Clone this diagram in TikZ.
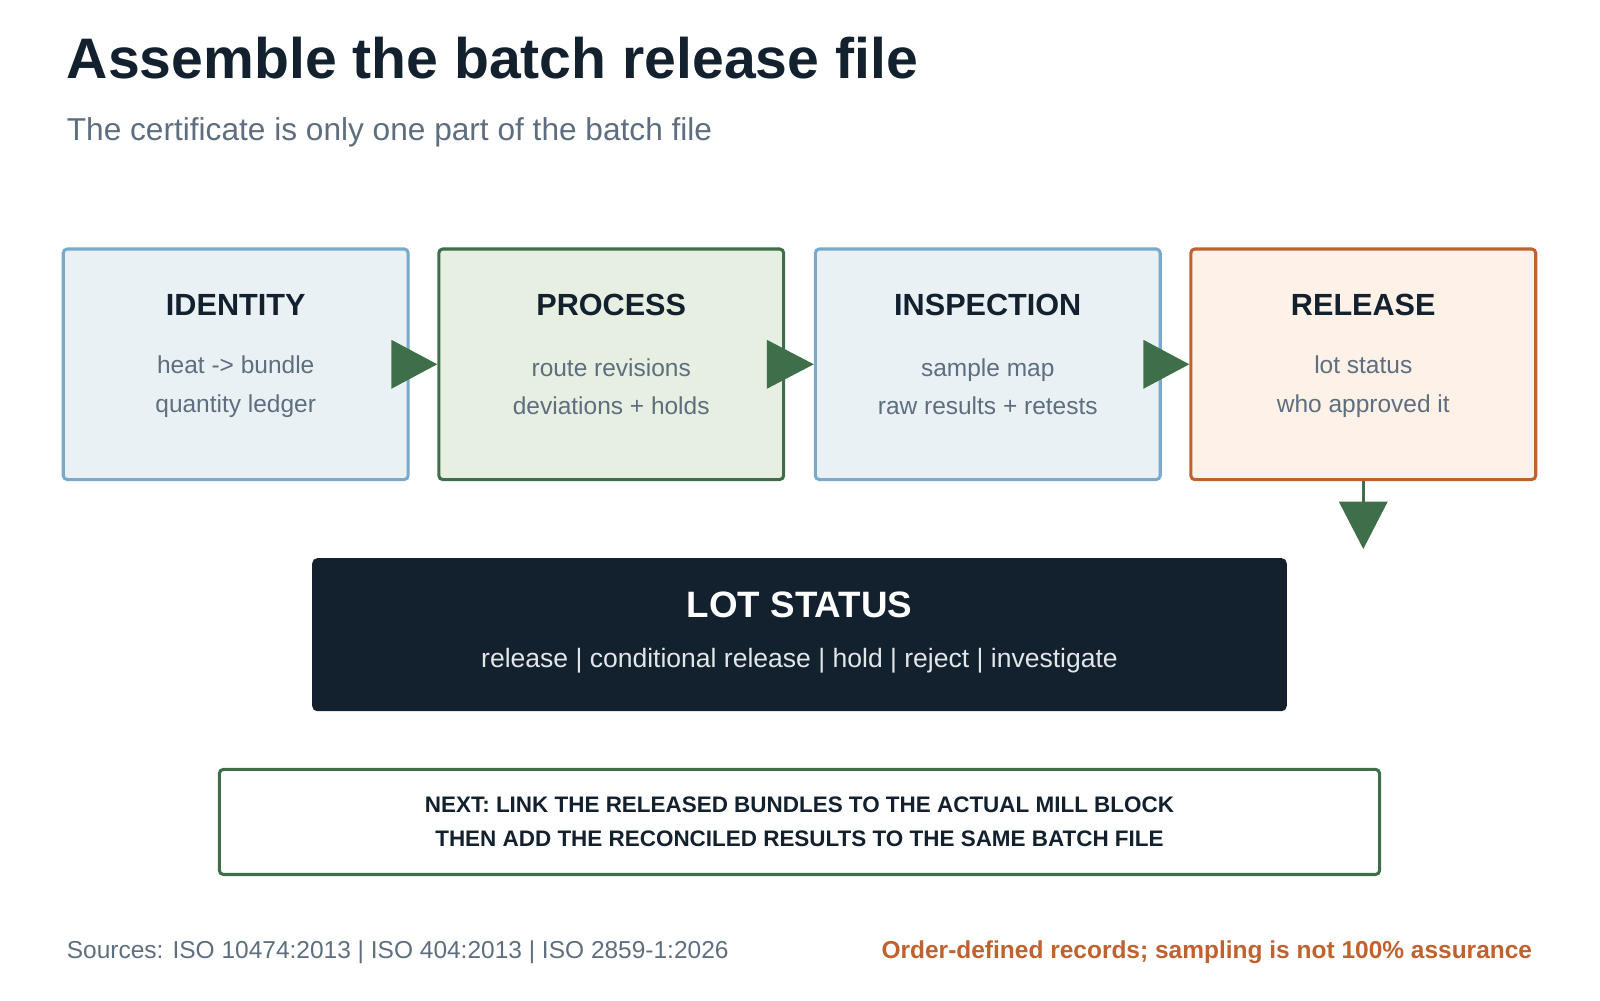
\documentclass[tikz,border=0pt]{standalone}
\usepackage{fontspec}
\setmainfont{Liberation Sans}
\definecolor{bblue}{HTML}{7BA9C9}\definecolor{fblue}{HTML}{EAF1F5}
\definecolor{bgreen}{HTML}{3E6E4A}\definecolor{fgreen}{HTML}{E6EFE1}
\definecolor{borange}{HTML}{C0622F}\definecolor{forange}{HTML}{FDF1E8}
\definecolor{dark}{HTML}{13212E}\definecolor{grey}{HTML}{5E6E7E}\definecolor{light}{HTML}{E0E6EA}
\begin{document}
\begin{tikzpicture}[x=1pt,y=1pt,
 card/.style={draw,line width=3,rounded corners=4,minimum width=338,minimum height=226,inner sep=0},
 ttl/.style={font=\fontsize{30}{36}\selectfont\bfseries,text=dark},
 sub/.style={font=\fontsize{24}{38}\selectfont,text=grey,align=center},
 tri/.style={fill=bgreen}]
\useasboundingbox (0,0) rectangle (1568,-980);
\node[anchor=base west,font=\fontsize{56}{60}\selectfont\bfseries,text=dark] (t) at (62,-77) {Assemble the batch release file};
\node[anchor=base west,font=\fontsize{31}{36}\selectfont,text=grey] (s) at (62,-138) {The certificate is only one part of the batch file};
\node[card,draw=bblue,fill=fblue] (id) at (231,-357) {};
\node[card,draw=bgreen,fill=fgreen] (pr) at (599,-357) {};
\node[card,draw=bblue,fill=fblue] (in) at (968,-357) {};
\node[card,draw=borange,fill=forange] (re) at (1336,-357) {};
\foreach \n/\t/\a/\b in {id/IDENTITY/heat -> bundle/quantity ledger, pr/PROCESS/route revisions/deviations + holds, in/INSPECTION/sample map/raw results + retests, re/RELEASE/lot status/who approved it}{
 \node[ttl] at ([yshift=58]\n.center) {\t};
 \node[sub] at ([yshift=-22]\n.center) {\a\\\b};
}
\foreach \a/\b in {id/pr,pr/in,in/re}{
 \fill[tri] ([xshift=-18,yshift=24]\a.east) -- (\b.west) -- ([xshift=-18,yshift=-24]\a.east) -- cycle;
}
\node[fill=dark,rounded corners=5,minimum width=955,minimum height=150] (lot) at (783.5,-622) {};
\node[font=\fontsize{36}{40}\selectfont\bfseries,text=white] at (783.5,-593) {LOT STATUS};
\node[font=\fontsize{26}{30}\selectfont,text=light] at (783.5,-647) {release | conditional release | hold | reject | investigate};
\coordinate (dt) at (1336,-538);
\draw[bgreen,line width=3] (re.south) -- ([yshift=-22]re.south);
\fill[tri] ([xshift=-24,yshift=-20]re.south) -- ([xshift=24,yshift=-20]re.south) -- (dt) -- cycle;
\node[draw=bgreen,line width=3,fill=white,rounded corners=4,minimum width=1137,minimum height=103,
 font=\fontsize{22}{33}\selectfont\bfseries,text=dark,align=center] (nx) at (783.5,-805.5)
 {NEXT: LINK THE RELEASED BUNDLES TO THE ACTUAL MILL BLOCK\\THEN ADD THE RECONCILED RESULTS TO THE SAME BATCH FILE};
\node[anchor=base west,font=\fontsize{24}{28}\selectfont,text=grey] (src) at (62,-939) {Sources: ISO 10474:2013 | ISO 404:2013 | ISO 2859-1:2026};
\node[anchor=base east,font=\fontsize{24}{28}\selectfont\bfseries,text=borange] (nt) at (1505,-939) {Order-defined records; sampling is not 100\% assurance};
\end{tikzpicture}
\end{document}
